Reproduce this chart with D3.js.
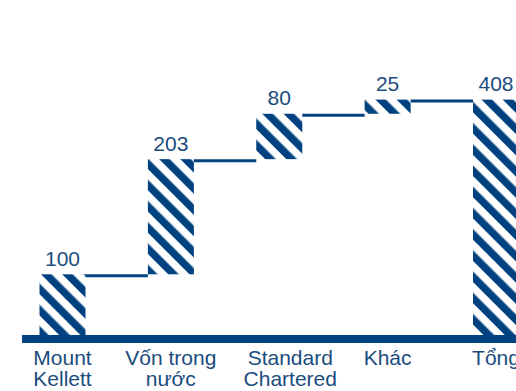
<!DOCTYPE html>
<html>
<head>
<meta charset="utf-8">
<script src="https://cdn.jsdelivr.net/npm/d3@7"></script>
<style>
  html, body { margin: 0; padding: 0; background: #fff; overflow: hidden; }
  text { font-family: "Liberation Sans", Arial, Helvetica, sans-serif; }
</style>
</head>
<body>
<svg id="chart" width="516" height="391"></svg>
<script>
// categories, line-broken labels and values of the waterfall
const categories = ["Mount Kellett", "Vốn trong nước", "Standard Chartered", "Khác", "Tổng"]
const labelLines = [["Mount", "Kellett"], ["Vốn trong", "nước"], ["Standard", "Chartered"], ["Khác"], ["Tổng"]]
const values = [100, 203, 80, 25, 408]
const isTotal = [false, false, false, false, true]

const blue = "#00427f"
const textBlue = "#1b4c7e"
// the original nudges this one label to the right
const labelNudge = { "Standard Chartered": 11 }

const svg = d3.select("#chart")

// stripes for the bars
svg.append("defs")
    .append("pattern")
    .attr("id", "hatch")
    .attr("patternUnits", "userSpaceOnUse")
    .attr("width", 15)
    .attr("height", 15)
    .attr("patternTransform", "rotate(-45)")
    .append("rect")
    .attr("width", 7.5)
    .attr("height", 15)
    .attr("fill", blue)

let x = d3.scalePoint().domain(categories).range([62.5, 496])
let y = d3.scaleLinear().domain([0, 408]).range([331, 99.6])
const barW = 46
const baseTop = 335

// running totals
let cum = 0
let steps = categories.map((c, i) => {
    let start = isTotal[i] ? 0 : cum
    let end = isTotal[i] ? values[i] : cum + values[i]
    if (!isTotal[i]) cum = end
    return { cat: c, start, end, value: values[i], lines: labelLines[i] }
})
const bottom = d => d.start === 0 ? baseTop + 1 : y(d.start)

// connectors
svg.append("g")
    .selectAll("line")
    .data(steps.slice(0, -1))
    .join("line")
    .attr("x1", d => x(d.cat) + barW / 2)
    .attr("x2", (d, i) => x(steps[i + 1].cat) - barW / 2)
    .attr("y1", d => y(d.end) + 1.5)
    .attr("y2", d => y(d.end) + 1.5)
    .attr("stroke", blue)
    .attr("stroke-width", 3)

svg.append("g")
    .selectAll("rect")
    .data(steps)
    .join("rect")
    .attr("x", d => x(d.cat) - barW / 2)
    .attr("width", barW)
    .attr("y", d => y(d.end))
    .attr("height", d => bottom(d) - y(d.end))
    .attr("fill", "url(#hatch)")

// baseline
svg.append("line")
    .attr("x1", 22)
    .attr("x2", 520)
    .attr("y1", baseTop + 4)
    .attr("y2", baseTop + 4)
    .attr("stroke", blue)
    .attr("stroke-width", 8)

// value labels
svg.append("g")
    .selectAll("text")
    .data(steps)
    .join("text")
    .attr("x", d => x(d.cat))
    .attr("y", d => y(d.end) - 8.5)
    .attr("text-anchor", "middle")
    .attr("font-size", 21)
    .attr("fill", textBlue)
    .text(d => d.value)

// category labels
let cl = svg.append("g")
    .selectAll("text")
    .data(steps)
    .join("text")
    .attr("y", 364.5)
    .attr("text-anchor", "middle")
    .attr("font-size", 21)
    .attr("fill", textBlue)

cl.selectAll("tspan")
    .data(d => d.lines.map(l => ({ l, cx: x(d.cat) + (labelNudge[d.cat] || 0) })))
    .join("tspan")
    .attr("x", d => d.cx)
    .attr("dy", (d, i) => i ? 21.5 : 0)
    .text(d => d.l)
</script>
</body>
</html>
